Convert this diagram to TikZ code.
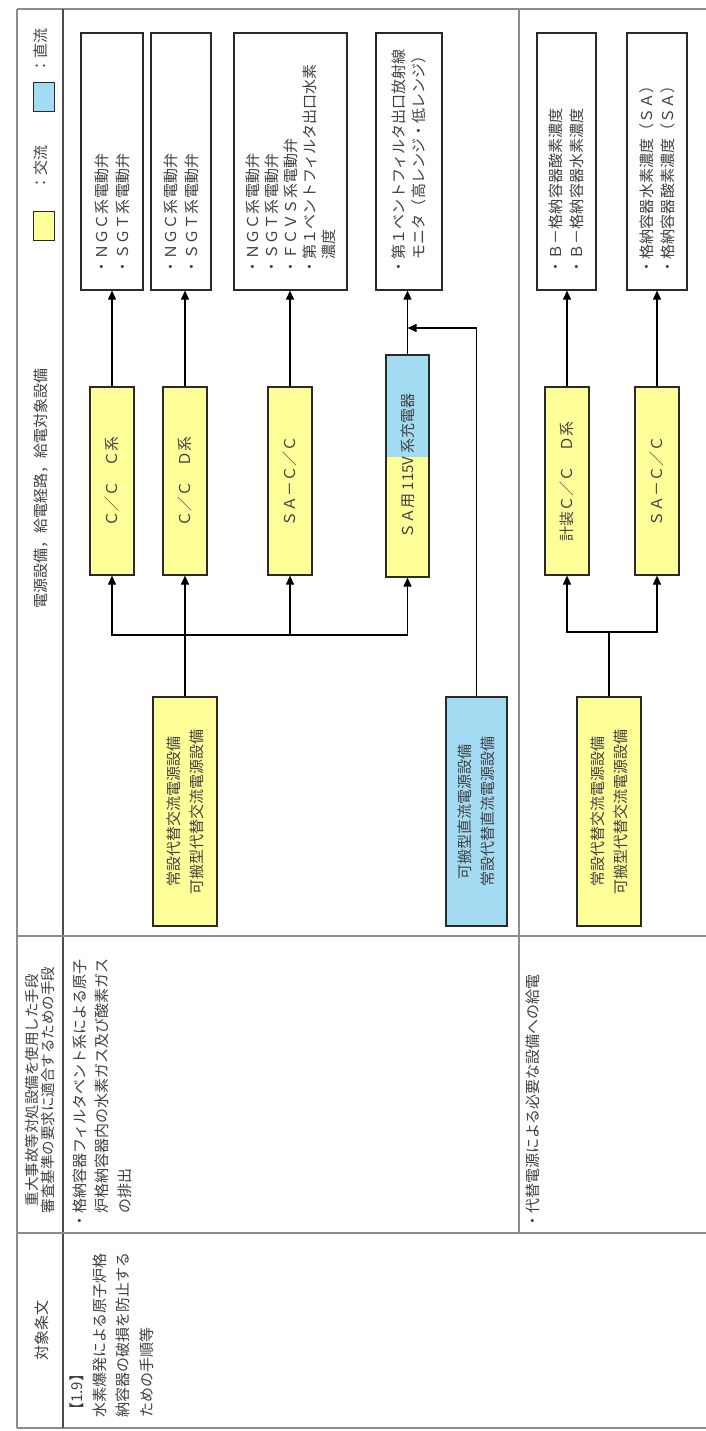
\documentclass[tikz,border=0pt]{standalone}
\usepackage{fontspec}
\setmainfont{Noto Sans CJK JP}
\usetikzlibrary{arrows.meta,calc}
\definecolor{acyellow}{HTML}{FFFF99}
\definecolor{dcblue}{HTML}{A3DBF3}
\definecolor{txt}{HTML}{404040}
\definecolor{rulec}{HTML}{8C8C8C}
\definecolor{boxc}{HTML}{2A2A2A}
\begin{document}
\begin{tikzpicture}[x=1pt,y=-1pt,
  every node/.style={font=\fontsize{15}{21}\selectfont, text=txt},
  rulel/.style={draw=rulec, line width=1.3pt},
  tgt/.style={draw=boxc, line width=1.2pt, fill=white, rotate=90, align=left, inner xsep=16pt, inner ysep=0pt, text width=225pt, minimum height=#1},
  mid/.style={draw=boxc, line width=1.2pt, fill=acyellow, rotate=90, align=center, inner sep=0pt, minimum width=188pt, minimum height=44pt},
  srcbox/.style={draw=boxc, line width=1.2pt, rotate=90, align=center, inner sep=0pt, minimum width=229pt, minimum height=#1, font=\fontsize{15}{23}\selectfont},
  legbox/.style={draw=boxc, line width=1pt, inner sep=0pt, minimum width=21pt, minimum height=29pt},
  conn/.style={draw=black, line width=1.1pt},
  arr/.style={conn, -{Triangle[length=9pt,width=8pt]}},
  vtext/.style={rotate=90, inner sep=0pt, align=left},
]
\useasboundingbox (0,0) rectangle (706,1431);
\fill[white] (0,0) rectangle (706,1431);

% table rules
\draw[rulel] (17,9) -- (706,9);
\draw[rulel] (17,1428) -- (706,1428);
\draw[rulel] (17,9) -- (17,1428);
\draw[rulel, draw=black!70] (63,9) -- (63,1428);
\draw[rulel] (17,936) -- (706,936);
\draw[rulel] (17,1233) -- (706,1233);
\draw[rulel] (519,9) -- (519,1233);

% header row
\node[vtext] (h1) at (41,488) {電源設備，給電経路，給電対象設備};
\node[legbox, fill=acyellow] (legy) at (43.5,226) {};
\node[vtext] (legyt) at (41,168) {：交流};
\node[legbox, fill=dcblue] (legb) at (43.5,97.5) {};
\node[vtext] (legbt) at (41,51) {：直流};
\node[vtext, align=center, font=\fontsize{14.5}{16.5}\selectfont] (h2) at (40,1090) {重大事故等対処設備を使用した手段\\審査基準の要求に適合するための手段};
\node[vtext] (h3) at (42,1330) {対象条文};

% first column text
\node[vtext, anchor=north west, font=\fontsize{15}{23.3}\selectfont] (law) at (69.5,1418) {【1.9】\\水素爆発による原子炉格\\納容器の破損を防止する\\ための手順等};
\node[vtext, anchor=north west, font=\fontsize{15}{22.5}\selectfont] (m1) at (72.5,1229) {・格納容器フィルタベント系による原子\\　炉格納容器内の水素ガス及び酸素ガス\\　の排出};
\node[vtext, anchor=north west, font=\fontsize{15}{22.5}\selectfont] (m2) at (525.5,1229) {・代替電源による必要な設備への給電};

% block 1 target boxes
\node[tgt=62pt] (t1) at (112,161.5) {・ＮＧＣ系電動弁\\・ＳＧＴ系電動弁};
\node[tgt=60pt] (t2) at (181,161.5) {・ＮＧＣ系電動弁\\・ＳＧＴ系電動弁};
\node[tgt=113pt, font=\fontsize{15}{19}\selectfont] (t3) at (290.5,161.5) {・ＮＧＣ系電動弁\\・ＳＧＴ系電動弁\\・ＦＣＶＳ系電動弁\\・第１ベントフィルタ出口水素\\　濃度};
\node[tgt=66pt, font=\fontsize{15}{20}\selectfont] (t4) at (409,161.5) {・第１ベントフィルタ出口放射線\\　モニタ（高レンジ・低レンジ）};

% block 1 middle boxes
\node[mid] (ccc) at (112,481) {Ｃ／Ｃ　Ｃ系};
\node[mid] (ccd) at (185,481) {Ｃ／Ｃ　Ｄ系};
\node[mid] (sacc) at (290,481) {ＳＡ－Ｃ／Ｃ};
\fill[acyellow] (386,355) rectangle (429,577);
\fill[dcblue] (386,355) rectangle (429,457);
\node[mid, fill=none, minimum width=222pt, minimum height=43pt] (sa115) at (407.5,466) {ＳＡ用 115V 系充電器};

% block 1 sources
\node[srcbox=64pt, fill=acyellow] (src1) at (185,811.5) {常設代替交流電源設備\\可搬型代替交流電源設備};
\node[srcbox=61pt, fill=dcblue] (dcsrc) at (476.5,811.5) {可搬型直流電源設備\\常設代替直流電源設備};

% block 2 boxes
\node[tgt=59pt] (u1) at (566.5,161.5) {・Ｂ－格納容器酸素濃度\\・Ｂ－格納容器水素濃度};
\node[tgt=60pt] (u2) at (657,161.5) {・格納容器水素濃度（ＳＡ）\\・格納容器酸素濃度（ＳＡ）};
\node[mid] (kcc) at (567,481) {計装Ｃ／Ｃ　Ｄ系};
\node[mid] (sacc2) at (657,481) {ＳＡ－Ｃ／Ｃ};
\node[srcbox=64pt, fill=acyellow] (src2) at (609,811.5) {常設代替交流電源設備\\可搬型代替交流電源設備};

% block 1 connectors
\coordinate (bus1) at (185,635);
\draw[arr] (src1.east) -- (ccd.west);
\draw[arr] (bus1) -| (ccc.west);
\draw[arr] (bus1) -| (sacc.west);
\draw[arr] (bus1) -| (sa115.west);
\draw[arr] (ccc.east) -- (ccc.east |- t1.west);
\draw[arr] (ccd.east) -- (ccd.east |- t2.west);
\draw[arr] (sacc.east) -- (sacc.east |- t3.west);
\draw[arr] (sa115.east) -- (sa115.east |- t4.west);
\coordinate (j4) at (407.5,328);
\draw[arr] (dcsrc.east) |- (j4);

% block 2 connectors
\coordinate (bus2) at (609,632);
\draw[conn] (src2.east) -- (bus2);
\draw[arr] (bus2) -| (kcc.west);
\draw[arr] (bus2) -| (sacc2.west);
\draw[arr] (kcc.east) -- (kcc.east |- u1.west);
\draw[arr] (sacc2.east) -- (sacc2.east |- u2.west);
\end{tikzpicture}
\end{document}
